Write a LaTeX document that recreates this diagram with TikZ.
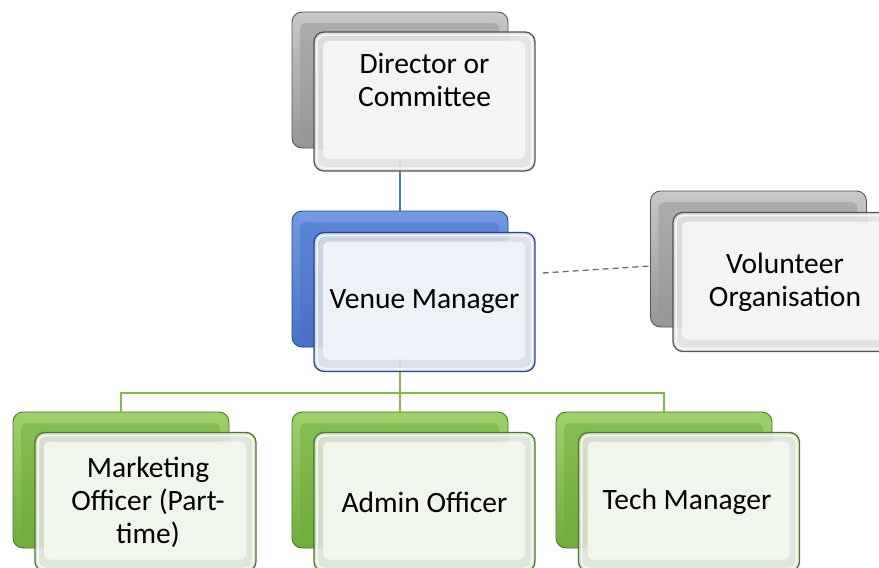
\documentclass[tikz,border=0pt]{standalone}
\usepackage{fontspec}
\setmainfont{Carlito}
\usetikzlibrary{calc}

% palette
\definecolor{grayTop}{RGB}{200,200,200}
\definecolor{grayBack}{RGB}{150,150,150}
\definecolor{grayEdge}{RGB}{85,85,85}
\definecolor{grayFront}{RGB}{242,242,242}
\definecolor{blueTop}{RGB}{115,155,225}
\definecolor{blueBack}{RGB}{72,114,200}
\definecolor{blueEdge}{RGB}{38,68,138}
\definecolor{blueFront}{RGB}{232,238,249}
\definecolor{greenTop}{RGB}{160,208,110}
\definecolor{greenBack}{RGB}{112,172,62}
\definecolor{greenEdge}{RGB}{72,122,38}
\definecolor{greenFront}{RGB}{238,245,232}
\definecolor{linkBlue}{RGB}{72,118,200}
\definecolor{linkGreen}{RGB}{128,186,78}
\definecolor{linkGray}{RGB}{110,110,110}

\tikzset{
  backbox/.style={rounded corners=10pt, minimum width=216pt, minimum height=136pt,
    inner sep=0pt, draw=#1Edge, line width=0.9pt, top color=#1Top, bottom color=#1Back,
    path picture={
      \fill[#1Back, opacity=0.5, rounded corners=6pt]
        ([shift={(8pt,9pt)}]path picture bounding box.south west) rectangle
        ([shift={(-9pt,-11pt)}]path picture bounding box.north east);
    }},
  frontbox/.style={rounded corners=10pt, minimum width=221pt, minimum height=139pt,
    inner sep=0pt, draw=#1Edge, line width=1.3pt, fill=#1Front!85!gray, fill opacity=0.9,
    path picture={
      \fill[#1Front!60!white, rounded corners=6pt]
        ([shift={(9pt,12pt)}]path picture bounding box.south west) rectangle
        ([shift={(-10pt,-9pt)}]path picture bounding box.north east);
      \draw[white, line width=1.5pt, rounded corners=8pt, opacity=0.8]
        ([shift={(3pt,3pt)}]path picture bounding box.south west) rectangle
        ([shift={(-3pt,-3pt)}]path picture bounding box.north east);
    }},
  lbl/.style={align=center, inner sep=0pt, text=black,
    font=\fontsize{29.5}{33}\selectfont},
  bluelink/.style={draw=linkBlue, line width=2.4pt},
  greenlink/.style={draw=linkGreen, line width=2.4pt},
  dashlink/.style={draw=linkGray, line width=1.3pt, dash pattern=on 6pt off 4pt},
}

\begin{document}
\begin{tikzpicture}[x=1pt, y=-1pt]
  \useasboundingbox (0,0) rectangle (879,568);

  % back layers
  \node[backbox=gray]  (dirB) at (400,80) {};
  \node[backbox=blue]  (venB) at (400,279) {};
  \node[backbox=gray]  (volB) at (758.5,259) {};
  \node[backbox=green] (mktB) at (121,480) {};
  \node[backbox=green] (admB) at (400,480) {};
  \node[backbox=green] (tecB) at (664,480) {};

  % connectors (drawn over the back layers, under the front panels)
  \coordinate (bus) at (400,393);
  \draw[bluelink] (dirB.south) -- (venB.north);
  \draw[greenlink] (venB.south) -- (venB.south |- bus) -| (mktB.north);
  \draw[greenlink] (venB.south |- bus) -- (admB.north);
  \draw[greenlink] (venB.south |- bus) -| (tecB.north);

  % front panels
  \node[frontbox=gray]  (dir) at (424.5,101.5) {};
  \node[frontbox=blue]  (ven) at (424.5,302) {};
  \node[frontbox=gray]  (vol) at (783.5,282) {};
  \node[frontbox=green] (mkt) at (145.5,502) {};
  \node[frontbox=green] (adm) at (424.5,502) {};
  \node[frontbox=green] (tec) at (689,502) {};

  \draw[dashlink] ([xshift=7pt, yshift=29pt]ven.east) -- ([yshift=-7pt]volB.west);

  % captions
  \node[lbl] (dirT) at (424.5,80) {Director or\\Committee};
  \node[lbl] (venT) at (424.5,302) {Venue Manager};
  \node[lbl] (volT) at (785,282) {Volunteer\\Organisation};
  \node[lbl] (mktT) at (148,502) {Marketing\\Officer (Part-\\time)};
  \node[lbl] (admT) at (424.5,502) {Admin Officer};
  \node[lbl] (tecT) at (687,502) {Tech Manager};
\end{tikzpicture}
\end{document}
